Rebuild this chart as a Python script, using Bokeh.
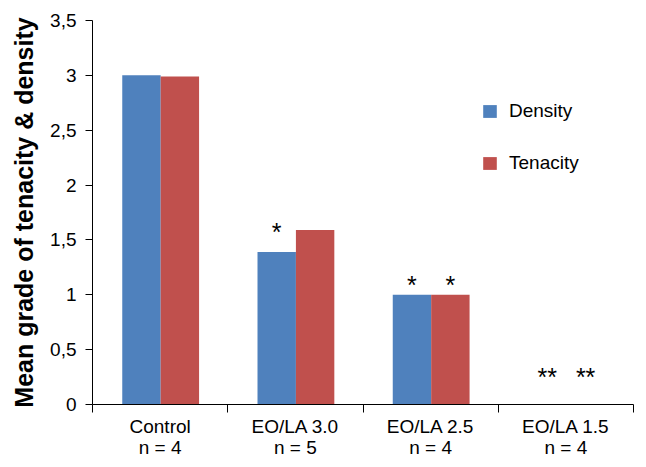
from bokeh.plotting import figure
from bokeh.models import Range1d, FixedTicker, Legend, LegendItem, ColumnDataSource
from bokeh.core.properties import value
from bokeh.embed import file_html
from bokeh.resources import INLINE

# ---- data ----
categories = ["Control", "EO/LA 3.0", "EO/LA 2.5", "EO/LA 1.5"]
n_counts = [4, 5, 4, 4]
density = [3.0, 1.39, 1.0, 0.0]
tenacity = [2.99, 1.59, 1.0, 0.0]
y_ticks = [0, 0.5, 1, 1.5, 2, 2.5, 3, 3.5]
y_tick_labels = ["0", "0,5", "1", "1,5", "2", "2,5", "3", "3,5"]
star_cat = [1, 2, 2, 3, 3]
star_series = ["Density", "Density", "Tenacity", "Density", "Tenacity"]
star_y = [1.57, 1.09, 1.09, 0.25, 0.25]
star_text = ["*", "*", "*", "**", "**"]

BLUE = "#4F81BD"
RED = "#C0504D"
FONT = "Liberation Sans"

offsets = {"Density": 0.362, "Tenacity": 0.646}
bar_w = 0.284

p = figure(width=640, height=462, output_backend="svg", toolbar_location=None,
           x_range=Range1d(0, 4), y_range=Range1d(0, 3.5),
           min_border_left=92, min_border_right=7, min_border_top=20, min_border_bottom=58)
p.outline_line_color = None
p.xgrid.visible = False
p.ygrid.visible = False
p.background_fill_color = "white"

xs = list(range(len(categories)))
src_d = ColumnDataSource(dict(x=[i + offsets["Density"] for i in xs], top=density))
src_t = ColumnDataSource(dict(x=[i + offsets["Tenacity"] for i in xs], top=tenacity))
r_d = p.vbar(x="x", top="top", width=bar_w, source=src_d, fill_color=BLUE, line_color=None)
r_t = p.vbar(x="x", top="top", width=bar_w, source=src_t, fill_color=RED, line_color=None)

src_s = ColumnDataSource(dict(x=[c + offsets[s] for c, s in zip(star_cat, star_series)],
                              y=star_y, t=star_text))
p.text(x="x", y="y", text="t", source=src_s, text_align="center", text_baseline="middle",
       text_font=value(FONT), text_font_size="25px", text_color="black")

# x axis
xa = p.xaxis[0]
xa.ticker = FixedTicker(ticks=[i + 0.5 for i in xs], minor_ticks=[0, 1, 2, 3, 4])
xa.major_label_overrides = {i + 0.5: f"{c}\nn = {n}" for i, (c, n) in enumerate(zip(categories, n_counts))}
xa.major_tick_out = 0
xa.major_tick_in = 0
xa.minor_tick_out = 8
xa.minor_tick_in = 0
xa.major_label_standoff = 3
xa.major_label_text_font = FONT
xa.major_label_text_font_size = "19px"
xa.major_label_text_color = "black"
xa.major_label_text_line_height = 1.03
xa.axis_line_color = "black"
xa.minor_tick_line_color = "black"

# y axis
ya = p.yaxis[0]
ya.ticker = FixedTicker(ticks=y_ticks, minor_ticks=[])
ya.major_label_overrides = {t: l for t, l in zip(y_ticks, y_tick_labels)}
ya.major_tick_out = 7
ya.major_tick_in = 0
ya.minor_tick_out = 0
ya.minor_tick_in = 0
ya.major_label_standoff = 9
ya.major_label_text_font = FONT
ya.major_label_text_font_size = "19px"
ya.major_label_text_color = "black"
ya.axis_line_color = "black"
ya.major_tick_line_color = "black"
ya.axis_label = "Mean grade of tenacity & density"
ya.axis_label_text_font = FONT
ya.axis_label_text_font_size = "25px"
ya.axis_label_text_font_style = "bold"
ya.axis_label_text_color = "black"
ya.axis_label_standoff = 9

legend = Legend(items=[LegendItem(label="Density", renderers=[r_d]),
                       LegendItem(label="Tenacity", renderers=[r_t])],
                location=(389, 230), padding=0, margin=0, spacing=30,
                glyph_width=17, glyph_height=16, label_standoff=11,
                label_text_font=FONT, label_text_font_size="19px", label_text_color="black",
                border_line_color=None, background_fill_alpha=0)
p.add_layout(legend)

open("out.html", "w").write(file_html(p, INLINE))
